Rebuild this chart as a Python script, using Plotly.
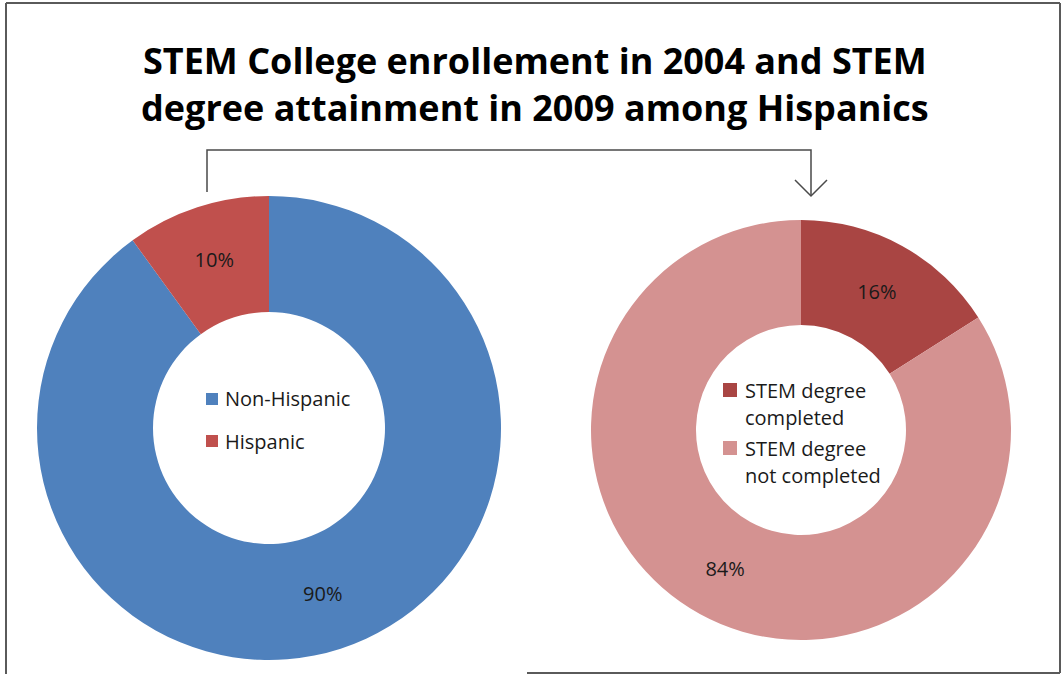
import plotly.graph_objects as go

W, H = 1063, 674

# 2004 STEM college enrollment
enroll_labels = ["Non-Hispanic", "Hispanic"]
enroll_values = [90, 10]
enroll_colors = ["#4F81BD", "#C0504D"]

# 2009 STEM degree attainment among Hispanics
degree_labels = ["STEM degree<br>completed", "STEM degree<br>not completed"]
degree_values = [16, 84]
degree_colors = ["#A94543", "#D49291"]

title_text = ("STEM College enrollement in 2004 and STEM<br>"
              "degree attainment in 2009 among Hispanics")


def px(x):
    return x / W


def py(y):
    return 1 - y / H


font_family = "Open Sans, Noto Sans, sans-serif"
text_col = "#1A1A1A"

fig = go.Figure()

fig.add_trace(go.Pie(
    labels=enroll_labels,
    values=enroll_values,
    marker=dict(colors=enroll_colors, line=dict(width=0)),
    hole=0.5,
    sort=False,
    direction="clockwise",
    rotation=0,
    texttemplate="%{value}%",
    textposition="inside",
    insidetextorientation="horizontal",
    textfont=dict(size=20, color=text_col, family=font_family),
    domain=dict(x=[px(37), px(501)], y=[py(660), py(196)]),
    showlegend=False,
    hoverinfo="label+percent",
))

fig.add_trace(go.Pie(
    labels=degree_labels,
    values=degree_values,
    marker=dict(colors=degree_colors, line=dict(width=0)),
    hole=0.5,
    sort=False,
    direction="clockwise",
    rotation=0,
    texttemplate="%{value}%",
    textposition="inside",
    insidetextorientation="horizontal",
    textfont=dict(size=20, color=text_col, family=font_family),
    domain=dict(x=[px(590), px(1012)], y=[py(640), py(220)]),
    showlegend=False,
    hoverinfo="label+percent",
))

# outer frame
shapes = [
    dict(type="line", x0=px(6), x1=px(1060), y0=py(3), y1=py(3)),
    dict(type="line", x0=px(6), x1=px(6), y0=py(3), y1=py(674)),
    dict(type="line", x0=px(1060), x1=px(1060), y0=py(3), y1=py(673)),
    dict(type="line", x0=px(527), x1=px(1060), y0=py(673), y1=py(673)),
]
for s in shapes:
    s.update(xref="paper", yref="paper", line=dict(color="#5A5A5A", width=2))

# connector arrow from the enrollment ring to the attainment ring
connector = [
    dict(type="path",
         path=f"M {px(207)},{py(192)} L {px(207)},{py(150)} "
              f"L {px(811)},{py(150)} L {px(811)},{py(196)}"),
    dict(type="path",
         path=f"M {px(795)},{py(180)} L {px(811)},{py(196)} L {px(827)},{py(180)}"),
]
for s in connector:
    s.update(xref="paper", yref="paper", line=dict(color="#4A4A4A", width=1.5))

annotations = [dict(
    text=title_text,
    x=px(535), y=py(84),
    xref="paper", yref="paper",
    xanchor="center", yanchor="middle",
    showarrow=False,
    font=dict(size=36, family=font_family, color="#000000", weight="bold"),
)]

# legend keys drawn inside each ring's hole
legend_shapes = []


def add_key(labels, colors, sq_x, sq_size, text_x, row_tops, line_gap):
    for label, color, top in zip(labels, colors, row_tops):
        legend_shapes.append(dict(
            type="rect", xref="paper", yref="paper",
            x0=px(sq_x), x1=px(sq_x + sq_size),
            y0=py(top - sq_size / 2), y1=py(top + sq_size / 2),
            fillcolor=color, line=dict(width=0),
        ))
        for i, line in enumerate(label.split("<br>")):
            annotations.append(dict(
                text=line, x=px(text_x), y=py(top + i * line_gap),
                xref="paper", yref="paper",
                xanchor="left", yanchor="middle", showarrow=False,
                font=dict(size=20, family=font_family, color=text_col),
            ))


add_key(enroll_labels, enroll_colors, 206, 12, 223, [399, 441], 28)
add_key(degree_labels, degree_colors, 723, 14, 743, [390, 448], 27)

fig.update_layout(
    width=W,
    height=H,
    margin=dict(l=0, r=0, t=0, b=0),
    paper_bgcolor="white",
    plot_bgcolor="white",
    font=dict(family=font_family, color=text_col),
    shapes=shapes + connector + legend_shapes,
    annotations=annotations,
)

fig.write_html("out.html")
